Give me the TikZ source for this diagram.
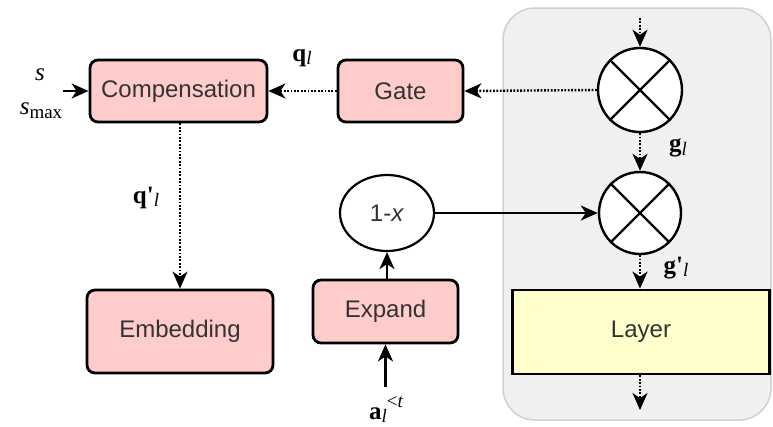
\documentclass[tikz,border=0pt]{standalone}
\usepackage{fontspec}
\setmainfont{Liberation Sans}
\newfontfamily\tms{Liberation Serif}
\usetikzlibrary{arrows.meta,shapes.geometric}
\definecolor{pinkfill}{HTML}{FFCCCC}
\definecolor{yellowfill}{HTML}{FFFFCC}
\definecolor{panelfill}{HTML}{F0F0F0}
\definecolor{panelline}{HTML}{D0D0D0}
\newcommand{\lblfont}{\tms\fontsize{25}{28}\selectfont}
\newcommand{\subfont}{\tms\fontsize{19}{20}\selectfont}
\begin{document}
\begin{tikzpicture}[x=1pt,y=1pt,
  boxtext/.style={font=\fontsize{24}{28}\selectfont, text=black!80},
  pinkbox/.style={boxtext, draw=black, line width=2.8pt, fill=pinkfill, rounded corners=8pt, inner sep=0pt},
  layerbox/.style={boxtext, draw=black, line width=2.8pt, fill=yellowfill, inner sep=0pt},
  mult/.style={circle, draw=black, line width=2.4pt, fill=white, inner sep=0pt},
  oneminus/.style={ellipse, draw=black, line width=2.2pt, fill=white, inner sep=0pt, boxtext},
  tip/.style={-{Stealth[length=17pt,width=15pt,inset=5pt]}},
  solidarrow/.style={tip, line width=2.2pt},
  dotarrow/.style={tip, line width=2.4pt, dash pattern=on 1.8pt off 1.6pt},
  lbl/.style={font=\lblfont, inner sep=0pt}
]
\useasboundingbox (0,0) rectangle (773,-426);
% panel
\node[draw=panelline, fill=panelfill, line width=1.5pt, rounded corners=32pt,
      minimum width=268pt, minimum height=412pt, inner sep=0pt] (panel) at (637,-214) {};
% boxes
\node[pinkbox, minimum width=177pt, minimum height=62pt] (comp) at (178.5,-91) {Compensation};
\node[pinkbox, minimum width=125pt, minimum height=62pt] (gate) at (400.5,-91) {Gate};
\node[pinkbox, minimum width=186pt, minimum height=83pt] (emb) at (180,-331.5) {Embedding};
\node[pinkbox, minimum width=145pt, minimum height=63pt] (expand) at (385.5,-311.5) {Expand};
\node[layerbox, minimum width=257pt, minimum height=84pt] (layer) at (641,-332) {Layer};
\node[oneminus, minimum width=94pt, minimum height=76pt] (onex) at (387,-213) {1-\textit{x}};
\node[mult, minimum size=84pt] (m1) at (640,-90) {};
\node[mult, minimum size=82pt] (m2) at (640,-213) {};
\foreach \m in {m1,m2}{
  \draw[line width=2.4pt] (\m.45) -- (\m.225) (\m.135) -- (\m.315);
}
% free ends
\coordinate (topin) at (640,-18);
\coordinate (botout) at (640,-410);
\coordinate (sin) at (63,-91);
\coordinate (ain) at (385.5,-387);
% connectors
\draw[dotarrow] (topin) -- (m1.north);
\draw[dotarrow] (m1.south) -- (m2.north);
\draw[dotarrow] (m2.south) -- (layer.north -| m2.south);
\draw[dotarrow] (layer.south -| botout) -- (botout);
\draw[dotarrow] (m1.west) -- (gate.east);
\draw[dotarrow] (gate.west) -- (comp.east);
\draw[dotarrow] (comp.south -| emb.north) -- (emb.north);
\draw[solidarrow] (expand.north -| onex.south) -- (onex.south);
\draw[solidarrow] (ain) -- (expand.south);
\draw[solidarrow] (onex.east) -- (m2.west);
\draw[solidarrow] (sin) -- (comp.west);
% labels
\node[lbl] (ls) at (40,-75) {\itshape s};
\node[lbl] (lsmax) at (41,-111) {\itshape s\raisebox{-0.35ex}{\subfont\upshape max}};
\node[lbl] (lq) at (302,-58) {\bfseries q\raisebox{-0.3ex}{\subfont\mdseries\itshape l}};
\node[lbl] (lqp) at (146,-198) {\bfseries q'\raisebox{-0.3ex}{\subfont\mdseries\itshape l}};
\node[lbl] (lg) at (678,-148) {\bfseries g\raisebox{-0.3ex}{\subfont\mdseries\itshape l}};
\node[lbl] (lgp) at (676,-268) {\bfseries g'\raisebox{-0.3ex}{\subfont\mdseries\itshape l}};
\node[lbl] (la) at (386,-410) {\bfseries a\raisebox{-0.3ex}{\subfont\mdseries\itshape l}\raisebox{1.0ex}{\subfont\mdseries <\itshape t}};
\end{tikzpicture}
\end{document}
